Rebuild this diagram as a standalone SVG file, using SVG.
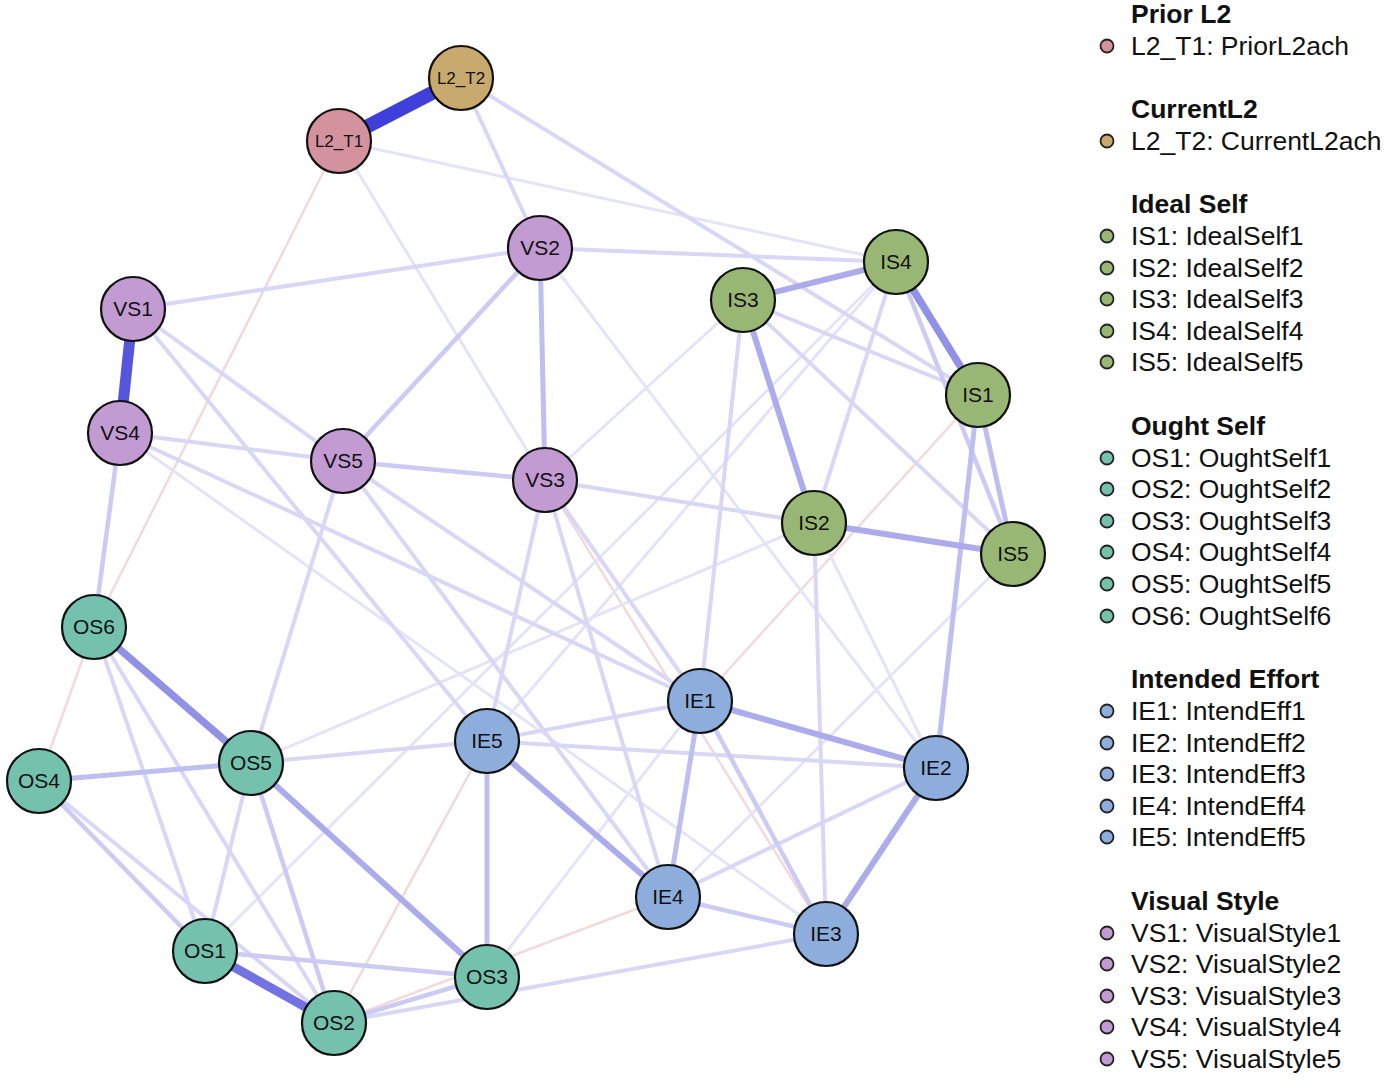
<svg xmlns="http://www.w3.org/2000/svg" width="1384" height="1081" viewBox="0 0 1384 1081">
<style>
.bg{fill:#ffffff}
line{stroke-linecap:butt}
.e1{stroke:#3F3FD9;stroke-width:14}
.e2{stroke:#5656DD;stroke-width:11}
.e3{stroke:#7272E2;stroke-width:9}
.e4{stroke:#9191E6;stroke-width:7.5}
.e5{stroke:#ACACEC;stroke-width:6}
.e6{stroke:#BEBEF0;stroke-width:5}
.e7{stroke:#CBCBF3;stroke-width:4.5}
.e8{stroke:#D8D8F6;stroke-width:4}
.e9{stroke:#E4E4F8;stroke-width:3}
.ng{stroke:#F1DADA;stroke-width:2.5}
.node circle{stroke:#111111;stroke-width:2.2}
.node text{font-family:"Liberation Sans",Arial,sans-serif;font-size:21px;fill:#111111;text-anchor:middle}
.node text.small{font-size:17px}
.pl{fill:#D4929F}.cl{fill:#C8AA6E}.vs{fill:#C39BD3}.is{fill:#98B774}.os{fill:#74C2AE}.ie{fill:#8DAEDD}
.leg text{font-family:"Liberation Sans",Arial,sans-serif;font-size:26.5px;fill:#111111}
.leg text.t{font-weight:bold}
.leg circle{stroke:#222222;stroke-width:1.8}
</style>
<rect class="bg" x="0" y="0" width="1384" height="1081"/>
<g id="connectors">
<line class="ng" x1="339" y1="141" x2="94" y2="627"/>
<line class="ng" x1="94" y1="627" x2="39" y2="781"/>
<line class="ng" x1="334" y1="1023" x2="487" y2="741"/>
<line class="ng" x1="334" y1="1023" x2="668" y2="897"/>
<line class="ng" x1="545" y1="480" x2="826" y2="934"/>
<line class="ng" x1="978" y1="395" x2="700" y2="701"/>
<line class="e9" x1="545" y1="480" x2="339" y2="141"/>
<line class="e9" x1="339" y1="141" x2="896" y2="262"/>
<line class="e9" x1="540" y1="248" x2="936" y2="768"/>
<line class="e9" x1="545" y1="480" x2="743" y2="300"/>
<line class="e9" x1="120" y1="433" x2="826" y2="934"/>
<line class="e9" x1="251" y1="763" x2="814" y2="523"/>
<line class="e9" x1="814" y1="523" x2="936" y2="768"/>
<line class="e9" x1="896" y1="262" x2="487" y2="741"/>
<line class="e9" x1="1013" y1="554" x2="668" y2="897"/>
<line class="e9" x1="487" y1="977" x2="700" y2="701"/>
<line class="e9" x1="205" y1="951" x2="896" y2="262"/>
<line class="e8" x1="461" y1="78" x2="978" y2="395"/>
<line class="e8" x1="461" y1="78" x2="540" y2="248"/>
<line class="e8" x1="133" y1="309" x2="540" y2="248"/>
<line class="e8" x1="133" y1="309" x2="343" y2="461"/>
<line class="e8" x1="133" y1="309" x2="487" y2="741"/>
<line class="e8" x1="540" y1="248" x2="896" y2="262"/>
<line class="e8" x1="545" y1="480" x2="814" y2="523"/>
<line class="e8" x1="545" y1="480" x2="487" y2="741"/>
<line class="e8" x1="545" y1="480" x2="668" y2="897"/>
<line class="e8" x1="545" y1="480" x2="700" y2="701"/>
<line class="e8" x1="120" y1="433" x2="343" y2="461"/>
<line class="e8" x1="120" y1="433" x2="700" y2="701"/>
<line class="e8" x1="343" y1="461" x2="700" y2="701"/>
<line class="e8" x1="343" y1="461" x2="668" y2="897"/>
<line class="e8" x1="487" y1="741" x2="700" y2="701"/>
<line class="e8" x1="487" y1="741" x2="936" y2="768"/>
<line class="e8" x1="668" y1="897" x2="936" y2="768"/>
<line class="e8" x1="814" y1="523" x2="896" y2="262"/>
<line class="e8" x1="814" y1="523" x2="826" y2="934"/>
<line class="e8" x1="743" y1="300" x2="978" y2="395"/>
<line class="e8" x1="743" y1="300" x2="1013" y2="554"/>
<line class="e8" x1="743" y1="300" x2="700" y2="701"/>
<line class="e8" x1="334" y1="1023" x2="826" y2="934"/>
<line class="e8" x1="39" y1="781" x2="334" y2="1023"/>
<line class="e8" x1="94" y1="627" x2="205" y2="951"/>
<line class="e8" x1="94" y1="627" x2="334" y2="1023"/>
<line class="e8" x1="251" y1="763" x2="205" y2="951"/>
<line class="e8" x1="251" y1="763" x2="343" y2="461"/>
<line class="e8" x1="251" y1="763" x2="487" y2="741"/>
<line class="e7" x1="343" y1="461" x2="545" y2="480"/>
<line class="e7" x1="540" y1="248" x2="343" y2="461"/>
<line class="e7" x1="120" y1="433" x2="94" y2="627"/>
<line class="e7" x1="668" y1="897" x2="826" y2="934"/>
<line class="e7" x1="700" y1="701" x2="826" y2="934"/>
<line class="e7" x1="205" y1="951" x2="487" y2="977"/>
<line class="e7" x1="334" y1="1023" x2="487" y2="977"/>
<line class="e7" x1="39" y1="781" x2="205" y2="951"/>
<line class="e7" x1="251" y1="763" x2="334" y2="1023"/>
<line class="e7" x1="896" y1="262" x2="1013" y2="554"/>
<line class="e6" x1="700" y1="701" x2="668" y2="897"/>
<line class="e6" x1="39" y1="781" x2="251" y2="763"/>
<line class="e6" x1="978" y1="395" x2="1013" y2="554"/>
<line class="e6" x1="978" y1="395" x2="936" y2="768"/>
<line class="e6" x1="540" y1="248" x2="545" y2="480"/>
<line class="e6" x1="487" y1="741" x2="487" y2="977"/>
<line class="e5" x1="743" y1="300" x2="814" y2="523"/>
<line class="e5" x1="936" y1="768" x2="826" y2="934"/>
<line class="e5" x1="487" y1="741" x2="668" y2="897"/>
<line class="e5" x1="251" y1="763" x2="487" y2="977"/>
<line class="e5" x1="700" y1="701" x2="936" y2="768"/>
<line class="e5" x1="814" y1="523" x2="1013" y2="554"/>
<line class="e5" x1="743" y1="300" x2="896" y2="262"/>
<line class="e4" x1="896" y1="262" x2="978" y2="395"/>
<line class="e4" x1="94" y1="627" x2="251" y2="763"/>
<line class="e3" x1="205" y1="951" x2="334" y2="1023"/>
<line class="e2" x1="133" y1="309" x2="120" y2="433"/>
<line class="e1" x1="339" y1="141" x2="461" y2="78"/>
</g>
<g id="node-L2_T1" class="node"><circle class="pl" cx="339" cy="141" r="32"/><text class="small" x="339" y="147">L2_T1</text></g>
<g id="node-L2_T2" class="node"><circle class="cl" cx="461" cy="78" r="32"/><text class="small" x="461" y="84">L2_T2</text></g>
<g id="node-VS1" class="node"><circle class="vs" cx="133" cy="309" r="32"/><text x="133" y="316">VS1</text></g>
<g id="node-VS2" class="node"><circle class="vs" cx="540" cy="248" r="32"/><text x="540" y="255">VS2</text></g>
<g id="node-VS3" class="node"><circle class="vs" cx="545" cy="480" r="32"/><text x="545" y="487">VS3</text></g>
<g id="node-VS4" class="node"><circle class="vs" cx="120" cy="433" r="32"/><text x="120" y="440">VS4</text></g>
<g id="node-VS5" class="node"><circle class="vs" cx="343" cy="461" r="32"/><text x="343" y="468">VS5</text></g>
<g id="node-IS1" class="node"><circle class="is" cx="978" cy="395" r="32"/><text x="978" y="402">IS1</text></g>
<g id="node-IS2" class="node"><circle class="is" cx="814" cy="523" r="32"/><text x="814" y="530">IS2</text></g>
<g id="node-IS3" class="node"><circle class="is" cx="743" cy="300" r="32"/><text x="743" y="307">IS3</text></g>
<g id="node-IS4" class="node"><circle class="is" cx="896" cy="262" r="32"/><text x="896" y="269">IS4</text></g>
<g id="node-IS5" class="node"><circle class="is" cx="1013" cy="554" r="32"/><text x="1013" y="561">IS5</text></g>
<g id="node-OS1" class="node"><circle class="os" cx="205" cy="951" r="32"/><text x="205" y="958">OS1</text></g>
<g id="node-OS2" class="node"><circle class="os" cx="334" cy="1023" r="32"/><text x="334" y="1030">OS2</text></g>
<g id="node-OS3" class="node"><circle class="os" cx="487" cy="977" r="32"/><text x="487" y="984">OS3</text></g>
<g id="node-OS4" class="node"><circle class="os" cx="39" cy="781" r="32"/><text x="39" y="788">OS4</text></g>
<g id="node-OS5" class="node"><circle class="os" cx="251" cy="763" r="32"/><text x="251" y="770">OS5</text></g>
<g id="node-OS6" class="node"><circle class="os" cx="94" cy="627" r="32"/><text x="94" y="634">OS6</text></g>
<g id="node-IE1" class="node"><circle class="ie" cx="700" cy="701" r="32"/><text x="700" y="708">IE1</text></g>
<g id="node-IE2" class="node"><circle class="ie" cx="936" cy="768" r="32"/><text x="936" y="775">IE2</text></g>
<g id="node-IE3" class="node"><circle class="ie" cx="826" cy="934" r="32"/><text x="826" y="941">IE3</text></g>
<g id="node-IE4" class="node"><circle class="ie" cx="668" cy="897" r="32"/><text x="668" y="904">IE4</text></g>
<g id="node-IE5" class="node"><circle class="ie" cx="487" cy="741" r="32"/><text x="487" y="748">IE5</text></g>
<g id="legend" class="leg">
<text class="t" x="1131" y="23">Prior L2</text>
<circle class="pl" cx="1107" cy="46" r="6.5"/><text x="1131" y="55">L2_T1: PriorL2ach</text>
<text class="t" x="1131" y="118">CurrentL2</text>
<circle class="cl" cx="1107" cy="141" r="6.5"/><text x="1131" y="150">L2_T2: CurrentL2ach</text>
<text class="t" x="1131" y="213">Ideal Self</text>
<circle class="is" cx="1107" cy="236" r="6.5"/><text x="1131" y="245">IS1: IdealSelf1</text>
<circle class="is" cx="1107" cy="268" r="6.5"/><text x="1131" y="277">IS2: IdealSelf2</text>
<circle class="is" cx="1107" cy="299" r="6.5"/><text x="1131" y="308">IS3: IdealSelf3</text>
<circle class="is" cx="1107" cy="331" r="6.5"/><text x="1131" y="340">IS4: IdealSelf4</text>
<circle class="is" cx="1107" cy="362" r="6.5"/><text x="1131" y="371">IS5: IdealSelf5</text>
<text class="t" x="1131" y="435">Ought Self</text>
<circle class="os" cx="1107" cy="458" r="6.5"/><text x="1131" y="467">OS1: OughtSelf1</text>
<circle class="os" cx="1107" cy="489" r="6.5"/><text x="1131" y="498">OS2: OughtSelf2</text>
<circle class="os" cx="1107" cy="521" r="6.5"/><text x="1131" y="530">OS3: OughtSelf3</text>
<circle class="os" cx="1107" cy="552" r="6.5"/><text x="1131" y="561">OS4: OughtSelf4</text>
<circle class="os" cx="1107" cy="584" r="6.5"/><text x="1131" y="593">OS5: OughtSelf5</text>
<circle class="os" cx="1107" cy="616" r="6.5"/><text x="1131" y="625">OS6: OughtSelf6</text>
<text class="t" x="1131" y="688">Intended Effort</text>
<circle class="ie" cx="1107" cy="711" r="6.5"/><text x="1131" y="720">IE1: IntendEff1</text>
<circle class="ie" cx="1107" cy="743" r="6.5"/><text x="1131" y="752">IE2: IntendEff2</text>
<circle class="ie" cx="1107" cy="774" r="6.5"/><text x="1131" y="783">IE3: IntendEff3</text>
<circle class="ie" cx="1107" cy="806" r="6.5"/><text x="1131" y="815">IE4: IntendEff4</text>
<circle class="ie" cx="1107" cy="837" r="6.5"/><text x="1131" y="846">IE5: IntendEff5</text>
<text class="t" x="1131" y="910">Visual Style</text>
<circle class="vs" cx="1107" cy="933" r="6.5"/><text x="1131" y="942">VS1: VisualStyle1</text>
<circle class="vs" cx="1107" cy="964" r="6.5"/><text x="1131" y="973">VS2: VisualStyle2</text>
<circle class="vs" cx="1107" cy="996" r="6.5"/><text x="1131" y="1005">VS3: VisualStyle3</text>
<circle class="vs" cx="1107" cy="1027" r="6.5"/><text x="1131" y="1036">VS4: VisualStyle4</text>
<circle class="vs" cx="1107" cy="1059" r="6.5"/><text x="1131" y="1068">VS5: VisualStyle5</text>
</g>
</svg>
